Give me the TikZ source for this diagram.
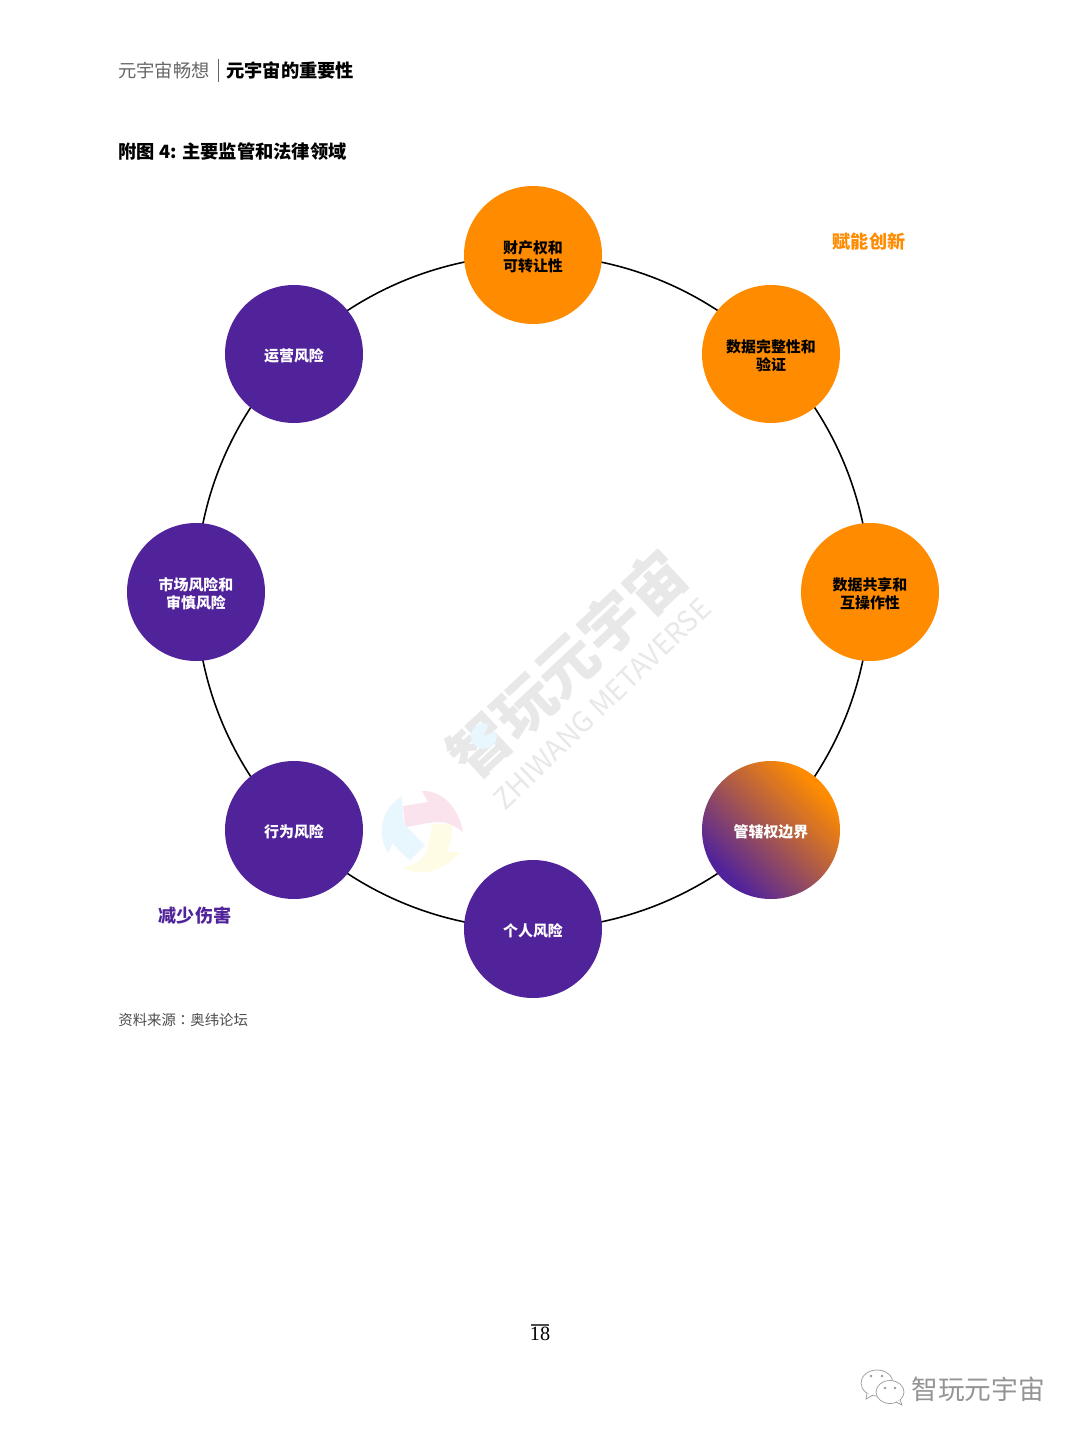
\documentclass[tikz,border=0pt]{standalone}
\usepackage{fontspec}
\usepackage{xcolor}
\setmainfont{Noto Sans CJK SC}
\newfontfamily\colonfont{Noto Sans CJK TC}
\newfontfamily\pagefont{Liberation Serif}
\usetikzlibrary{backgrounds}
\definecolor{ringorange}{HTML}{FF8C00}
\definecolor{ringpurple}{HTML}{51239B}
\definecolor{logopink}{HTML}{FBE3EE}
\definecolor{logoblue}{HTML}{E8F6FD}
\definecolor{logoyellow}{HTML}{FFFCE6}
\pgfdeclareverticalshading{jurisfade}{100bp}{color(0bp)=(ringpurple); color(27bp)=(ringpurple); color(73bp)=(ringorange); color(100bp)=(ringorange)}
\newcommand{\topgap}{\rule{0pt}{9.2pt}}
\tikzset{
    ringnode/.style={circle, minimum size=138*0.02cm, inner sep=0pt, align=center, font=\fontsize{8.5}{10}\selectfont\bfseries},
    orangenode/.style={ringnode, fill=ringorange, text=black},
    purplenode/.style={ringnode, fill=ringpurple, text=white},
    mixnode/.style={ringnode, text=white, shading=jurisfade, shading angle=-45},
    ringline/.style={black, line width=0.9pt, bend left=22.5, looseness=0.885},
    pagetext/.style={anchor=west, inner sep=0pt},
}
\begin{document}
\begin{tikzpicture}[x=0.02cm, y=-0.02cm]
    \useasboundingbox (0,0) rectangle (1080,1436);

    % 1. Header and title
    \node[pagetext, text=black!60, font=\fontsize{10.4}{12}\selectfont] (head) at (118,70) {元宇宙畅想};
    \node[pagetext, font=\fontsize{10.4}{12}\selectfont\bfseries] (headb) at (226,70) {元宇宙的重要性};
    \draw[black!60, line width=0.5pt] (218,59) -- (218,82);
    \node[pagetext, font=\fontsize{10.4}{12}\selectfont\bfseries] (title) at (118,152) {附图 4: 主要监管和法律领域};

    % 2. Watermark
    \node[rotate=43, text=black!9, font=\fontsize{34}{37}\selectfont\bfseries] (markcn) at (567,664) {智玩元宇宙};
    \node[rotate=44, text=black!9, font=\fontsize{16}{18}\selectfont] (marken) at (602,704) {ZHIWANG METAVERSE};
    \fill[logoblue] (484,736) -- ++(-20:13) arc (-20:290:13) -- cycle;
    \fill[logopink] (422,791) .. controls (440,790) and (458,805) .. (463,832) .. controls (455,826) and (447,822) .. (440,822) .. controls (428,822) and (415,826) .. (405,827) -- (403,806) -- (428,802) -- cycle;
    \fill[logoblue] (402,796) -- (403,820) .. controls (408,830) and (418,838) .. (425,845) -- (410,860) .. controls (403,855) and (397,848) .. (393,843) -- (388,853) .. controls (378,835) and (378,812) .. (402,796) -- cycle;
    \fill[logoyellow] (432,825) .. controls (440,823) and (447,824) .. (452,825) .. controls (453,835) and (450,845) .. (447,852) -- (460,852) .. controls (450,865) and (425,880) .. (403,868) .. controls (415,865) and (425,858) .. (427,850) -- cycle;

    % 3. Nodes on the ring
    \node[orangenode] (prop) at (533,255) {\topgap 财产权和\\可转让性};
    \node[orangenode] (data) at (771,354) {\topgap 数据完整性和\\验证};
    \node[orangenode] (share) at (870,592) {\topgap 数据共享和\\互操作性};
    \node[mixnode] (juris) at (771,830) {\topgap 管辖权边界};
    \node[purplenode] (person) at (533,929) {\topgap 个人风险};
    \node[purplenode] (behav) at (294,830) {\topgap 行为风险};
    \node[purplenode] (market) at (196,592) {\topgap 市场风险和\\审慎风险};
    \node[purplenode] (oper) at (294,354) {\topgap 运营风险};

    % 4. Ring behind the nodes
    \begin{scope}[on background layer]
        \fill[white] (0,0) rectangle (1080,1436);
        \foreach \a/\b in {prop/data, data/share, share/juris, juris/person, person/behav, behav/market, market/oper, oper/prop}
            \draw[ringline] (\a.center) to (\b.center);
    \end{scope}

    % 5. Side labels and source
    \node[text=ringorange, inner sep=0pt, font=\fontsize{10.3}{12}\selectfont\bfseries] (enable) at (869,242) {赋能创新};
    \node[text=ringpurple, inner sep=0pt, font=\fontsize{10.3}{12}\selectfont\bfseries] (reduce) at (195,916) {减少伤害};
    \node[pagetext, text=black!70, font=\fontsize{8.2}{10}\selectfont] (source) at (118,1020) {资料来源{\colonfont ：}奥纬论坛};

    % 6. Page number and footer
    \node[font=\fontsize{11.5}{13}\selectfont\pagefont] (page) at (540,1334) {18};
    \draw[black!70, line width=0.7pt] (531,1325) -- (549,1325);
    \draw[black!40, fill=white, line width=0.4pt] (877,1383) ellipse (16 and 13);
    \draw[black!40, fill=white, line width=0.4pt] (867,1393) -- (866,1399) -- (873,1395);
    \draw[black!40, fill=white, line width=0.4pt] (890,1392) ellipse (14 and 11.5);
    \draw[black!40, fill=white, line width=0.4pt] (896,1402) -- (902,1405) -- (900,1400);
    \foreach \p in {(871,1376), (882,1376), (885,1388), (895,1388)}
        \fill[black!40] \p circle (1.3);
    \node[pagetext, text=black!42, font=\fontsize{15.2}{17}\selectfont] (brand) at (911,1389) {智玩元宇宙};
\end{tikzpicture}
\end{document}
